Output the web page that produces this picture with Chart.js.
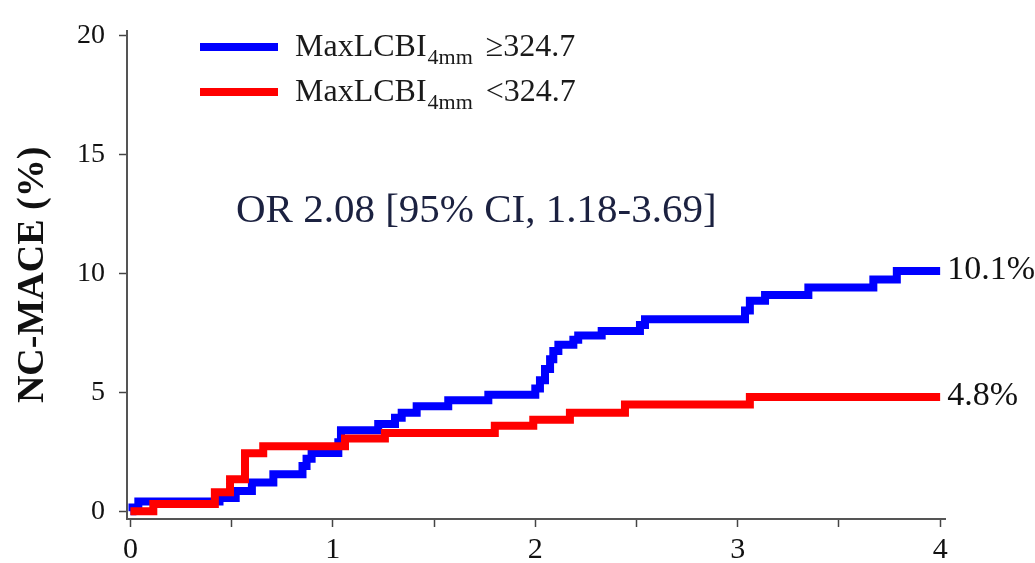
<!DOCTYPE html>
<html>
<head>
<meta charset="utf-8">
<script src="https://cdn.jsdelivr.net/npm/chart.js@4"></script>
<style>
  html, body { margin: 0; padding: 0; background: #fff; }
  #wrap { width: 1035px; height: 563px; }
</style>
</head>
<body>
<div id="wrap"><canvas id="kmChart" width="1035" height="563"></canvas></div>
<script>
// cumulative incidence, years vs %
const highTimes  = [0, 0.01, 0.039, 0.44, 0.52, 0.60, 0.706, 0.85, 0.87, 0.895, 1.027, 1.04, 1.224, 1.307, 1.34, 1.414, 1.57, 1.768, 2.0, 2.023, 2.048, 2.073, 2.089, 2.114, 2.188, 2.212, 2.328, 2.517, 2.542, 3.036, 3.06, 3.135, 3.349, 3.67, 3.786, 4.0];
const highValues = [0, 0.15, 0.41, 0.55, 0.85, 1.2, 1.55, 1.9, 2.2, 2.45, 2.9, 3.4, 3.66, 3.93, 4.14, 4.41, 4.66, 4.89, 5.16, 5.5, 5.98, 6.39, 6.73, 7.0, 7.21, 7.39, 7.58, 7.83, 8.07, 8.44, 8.85, 9.09, 9.4, 9.74, 10.1, 10.1];

const lowTimes  = [0, 0.113, 0.417, 0.492, 0.566, 0.656, 1.06, 1.257, 1.80, 1.99, 2.171, 2.443, 3.06, 4.0];
const lowValues = [0, 0.3, 0.79, 1.34, 2.43, 2.73, 3.05, 3.29, 3.59, 3.84, 4.14, 4.48, 4.8, 4.8];

const seriesNames = ['MaxLCBI', 'MaxLCBI'];
const seriesSub = ['4mm', '4mm'];
const seriesCut = ['\u2265324.7', '<324.7'];
const seriesColors = ['#0000ff', '#ff0000'];
const endLabels = ['10.1%', '4.8%'];
const oddsText = 'OR 2.08 [95% CI, 1.18-3.69]';

const xTicks = [0, 1, 2, 3, 4];
const yTicks = [0, 5, 10, 15, 20];

const serif = '"Liberation Serif", "Times New Roman", serif';

function toPoints(times, values) {
  return times.map((t, i) => ({ x: t, y: values[i] }));
}

const textLayer = {
  id: 'textLayer',
  afterDatasetsDraw(chart) {
    const { ctx, scales: { x, y } } = chart;
    ctx.save();

    // legend block
    seriesNames.forEach((name, i) => {
      const ly = 47 + i * 45;
      ctx.strokeStyle = seriesColors[i];
      ctx.lineWidth = 8;
      ctx.lineCap = 'butt';
      ctx.beginPath();
      ctx.moveTo(200, ly);
      ctx.lineTo(278, ly);
      ctx.stroke();

      ctx.fillStyle = '#1a1a1a';
      ctx.textBaseline = 'alphabetic';
      ctx.textAlign = 'left';
      let tx = 295;
      const base = ly + 9;
      ctx.font = '32px ' + serif;
      ctx.fillText(name, tx, base);
      tx += ctx.measureText(name).width + 1;
      ctx.font = '22px ' + serif;
      ctx.fillText(seriesSub[i], tx, base + 8);
      tx += ctx.measureText(seriesSub[i]).width + 13;
      ctx.font = '32px ' + serif;
      ctx.fillText(seriesCut[i], tx, base);
    });

    // odds ratio note
    ctx.font = '41px ' + serif;
    ctx.fillStyle = '#1b2140';
    ctx.fillText(oddsText, 236, 222);

    // values at the end of each curve
    const ends = [highValues[highValues.length - 1], lowValues[lowValues.length - 1]];
    const lastT = highTimes[highTimes.length - 1];
    ctx.font = '34px ' + serif;
    ctx.fillStyle = '#111';
    ctx.textBaseline = 'middle';
    endLabels.forEach((lbl, i) => {
      ctx.fillText(lbl, x.getPixelForValue(lastT) + 7, y.getPixelForValue(ends[i]) - 1);
    });
    ctx.restore();
  }
};

new Chart(document.getElementById('kmChart'), {
  type: 'line',
  data: {
    datasets: [
      {
        label: seriesNames[1] + seriesSub[1] + ' ' + seriesCut[1],
        data: toPoints(lowTimes, lowValues),
        borderColor: seriesColors[1],
        borderWidth: 8,
        stepped: 'before',
        pointRadius: 0,
        fill: false
      },
      {
        label: seriesNames[0] + seriesSub[0] + ' ' + seriesCut[0],
        data: toPoints(highTimes, highValues),
        borderColor: seriesColors[0],
        borderWidth: 8,
        stepped: 'before',
        pointRadius: 0,
        fill: false
      }
    ]
  },
  options: {
    responsive: false,
    animation: false,
    layout: { padding: { top: 18, right: 90, left: 0, bottom: 0 } },
    plugins: {
      legend: { display: false },
      tooltip: { enabled: false }
    },
    scales: {
      x: {
        type: 'linear',
        min: -0.017,
        max: 4.024,
        afterFit: s => { s.height = 44; },
        border: { color: '#555', width: 2 },
        grid: { drawOnChartArea: false, tickLength: 8, tickColor: '#444', tickWidth: 1.5 },
        ticks: {
          stepSize: 0.5,
          includeBounds: false,
          autoSkip: false,
          maxRotation: 0,
          padding: 5,
          color: '#111',
          font: { family: serif, size: 30 },
          callback: v => xTicks.includes(v) ? String(v) : ''
        }
      },
      y: {
        min: -0.33,
        max: 20.2,
        afterFit: s => { s.width = 127; },
        border: { color: '#555', width: 2 },
        grid: { drawOnChartArea: false, tickLength: 8, tickColor: '#444', tickWidth: 1.5 },
        ticks: {
          stepSize: 5,
          includeBounds: false,
          padding: 14,
          color: '#111',
          font: { family: serif, size: 28 },
          callback: v => yTicks.includes(v) ? String(v) : ''
        },
        title: {
          display: true,
          text: 'NC-MACE (%)',
          color: '#111',
          padding: { top: 10, bottom: 0 },
          font: { family: serif, size: 38, weight: 'bold' }
        }
      }
    }
  },
  plugins: [textLayer]
});
</script>
</body>
</html>
